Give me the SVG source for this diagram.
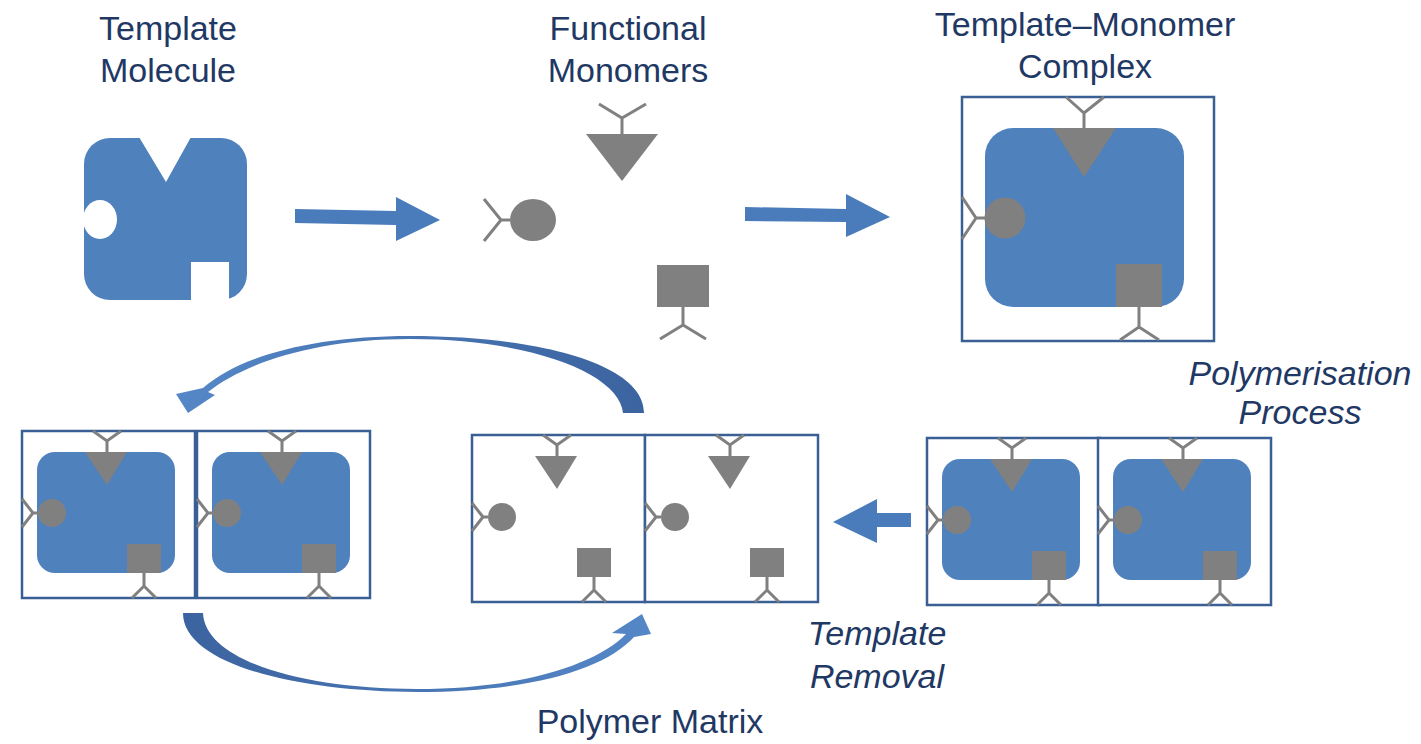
<svg xmlns="http://www.w3.org/2000/svg" xmlns:xlink="http://www.w3.org/1999/xlink" width="1421" height="744" viewBox="0 0 1421 744">
<style>
.lbl{font-family:"Liberation Sans",Arial,sans-serif;font-size:34px;fill:#1f3864;text-anchor:middle}
.it{font-style:italic}
.blue{fill:#4f81bd}
.gray{fill:#808080}
.stem{stroke:#808080;stroke-width:3;fill:none;stroke-linecap:butt}
.frame{fill:#fff;stroke:#3a5f95;stroke-width:2.5}
.arr{fill:#4a7cbc}
</style>
<defs>
<linearGradient id="gTop" x1="0" y1="0" x2="1" y2="0">
<stop offset="0" stop-color="#5587c7"/>
<stop offset="1" stop-color="#3b639f"/>
</linearGradient>
<linearGradient id="gBot" x1="0" y1="0" x2="1" y2="0">
<stop offset="0" stop-color="#3b639f"/>
<stop offset="1" stop-color="#5587c7"/>
</linearGradient>
<g id="sites">
<polygon class="gray" points="63,21 105,21 85,54"/>
<path class="stem" d="M85,21 V10 M71,0 L85,10 L99,0"/>
<circle class="gray" cx="30" cy="82" r="14"/>
<path class="stem" d="M16,82 H11 M0,68 L11,82 L0,96"/>
<rect class="gray" x="105" y="113" width="34" height="29"/>
<path class="stem" d="M122,142 V155 M110,167 L122,155 L134,167"/>
</g>
<g id="cellFull">
<rect class="frame" x="0" y="0" width="173" height="167"/>
<rect class="blue" x="15" y="21" width="138" height="121" rx="18"/>
<use xlink:href="#sites"/>
</g>
<g id="cellEmpty">
<rect class="frame" x="0" y="0" width="173" height="167"/>
<use xlink:href="#sites"/>
</g>
</defs>
<rect width="1421" height="744" fill="#fff"/>

<g id="template-molecule">
<text class="lbl" x="168" y="40">Template</text>
<text class="lbl" x="168" y="82">Molecule</text>
<rect class="blue" x="84" y="138" width="163" height="162" rx="26"/>
<polygon fill="#fff" points="139,137 191,137 166,182"/>
<ellipse fill="#fff" cx="100" cy="219.5" rx="17" ry="19.5"/>
<rect fill="#fff" x="191" y="262" width="38" height="39"/>
</g>

<g id="functional-monomers">
<text class="lbl" x="628" y="40">Functional</text>
<text class="lbl" x="628" y="82">Monomers</text>
<polygon class="gray" points="586,134 658,134 622,181"/>
<path class="stem" d="M622,134 V118 M599,104 L622,118 L646,104"/>
<ellipse class="gray" cx="533" cy="220" rx="23" ry="21"/>
<path class="stem" d="M510,220 H501 M484,199 L501,220 L484,241"/>
<rect class="gray" x="657" y="265" width="52" height="42"/>
<path class="stem" d="M683,307 V325 M660,339 L683,325 L706,339"/>
</g>

<g id="template-monomer-complex">
<text class="lbl" x="1085" y="36">Template–Monomer</text>
<text class="lbl" x="1085" y="78">Complex</text>
<rect class="frame" x="962" y="97" width="252" height="244"/>
<rect class="blue" x="985" y="128" width="199" height="179" rx="28"/>
<polygon class="gray" points="1053,128 1116,128 1084,177"/>
<path class="stem" d="M1084,128 V113 M1066,97 L1084,113 L1104,97"/>
<circle class="gray" cx="1005" cy="218" r="20.5"/>
<path class="stem" d="M985,218 H976 M962,197 L976,218 L962,239"/>
<rect class="gray" x="1116" y="264" width="46" height="43"/>
<path class="stem" d="M1139,307 V327 M1120,340 L1139,327 L1159,340"/>
</g>

<g id="polymerisation-process">
<text class="lbl it" x="1300" y="385">Polymerisation</text>
<text class="lbl it" x="1300" y="424">Process</text>
<use xlink:href="#cellFull" x="927" y="438"/>
<use xlink:href="#cellFull" x="1098" y="438"/>
</g>

<g id="polymer-matrix">
<use xlink:href="#cellEmpty" x="472" y="435"/>
<use xlink:href="#cellEmpty" x="645" y="435"/>
<text class="lbl" x="650" y="733">Polymer Matrix</text>
</g>

<g id="rebound-pair">
<use xlink:href="#cellFull" x="22" y="431"/>
<use xlink:href="#cellFull" x="197" y="431"/>
</g>

<g id="template-removal-label">
<text class="lbl it" x="877" y="645">Template</text>
<text class="lbl it" x="877" y="688">Removal</text>
</g>

<g id="connectors">
<polygon class="arr" points="295,209 396,211 396,197 440,220 396,241 396,225 295,223"/>
<polygon class="arr" points="745,207 846,209 846,194 890,217 846,237 846,222 745,221"/>
<polygon class="arr" points="911,513 877,513 877,499 833,522 877,543 877,527 911,527"/>
<path fill="url(#gTop)" d="M644,413 C645,366 545,336 410,336 C312,336 240,356 203,388 L176,394 L188,413 L215,395 L208,392 C245,363 315,339 410,339 C532,339 620,374 623,413 Z"/>
<path fill="url(#gBot)" d="M183,613 C183,665 300,692 417,692 C528,692 604,670 634,637 L651,634 L642,614 L612,633 L626,634 C596,665 520,689 417,689 C300,689 205,660 203,613 Z"/>
</g>
</svg>
